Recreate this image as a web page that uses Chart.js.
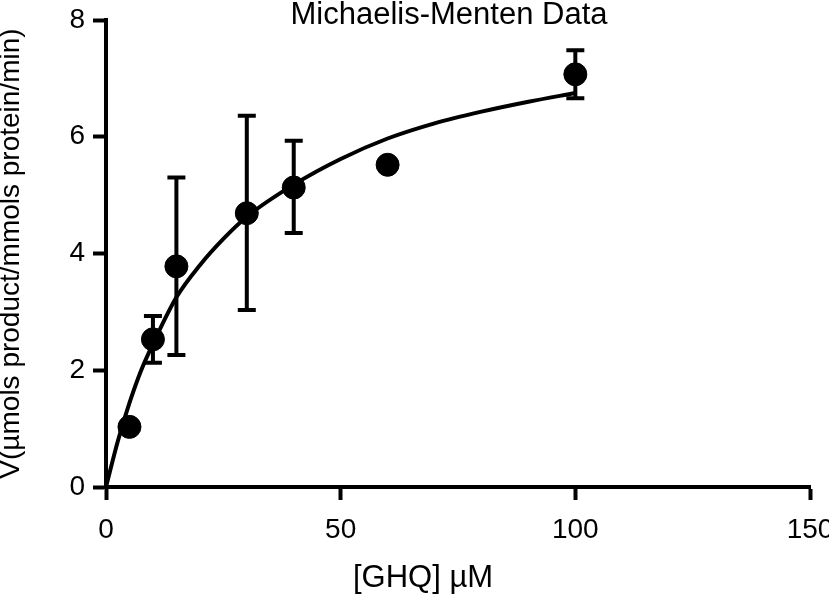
<!DOCTYPE html>
<html>
<head>
<meta charset="utf-8">
<script src="https://cdn.jsdelivr.net/npm/chart.js@4/dist/chart.umd.min.js"></script>
<style>
  html, body { margin: 0; padding: 0; background: #fff; }
  #wrap { width: 829px; height: 598px; }
</style>
</head>
<body>
<div id="wrap"><canvas id="mmChart" width="829" height="598"></canvas></div>
<script>
// measured data: substrate conc (uM) and rate
const substrate = [5, 10, 15, 30, 40, 60, 100];
const rate = [1.03, 2.53, 3.78, 4.69, 5.13, 5.52, 7.07];
const errLower = [null, 2.13, 2.26, 3.03, 4.35, null, 6.66];
const errUpper = [null, 2.93, 5.30, 6.36, 5.93, null, 7.48];

// fitted curve
const fitX = [0, 2.5, 5, 7.5, 10, 15, 20, 25, 30, 40, 50, 60, 70, 80, 90, 100];
const fitY = [0, 0.78, 1.44, 2.0, 2.45, 3.25, 3.80, 4.25, 4.63, 5.18, 5.62, 5.97, 6.23, 6.43, 6.60, 6.75];

const xTicks = [0, 50, 100, 150];
const yTicks = [0, 2, 4, 6, 8];

const FONT = '"Liberation Sans", Arial, sans-serif';

const errorBars = {
  id: 'errorBars',
  beforeDatasetsDraw(chart) {
    const ctx = chart.ctx;
    const xs = chart.scales.x, ys = chart.scales.y;
    ctx.save();
    ctx.strokeStyle = '#000';
    ctx.lineWidth = 4;
    for (let i = 0; i < substrate.length; i++) {
      if (errLower[i] == null) continue;
      const px = xs.getPixelForValue(substrate[i]);
      const lo = ys.getPixelForValue(errLower[i]);
      const hi = ys.getPixelForValue(errUpper[i]);
      ctx.beginPath();
      ctx.moveTo(px, lo); ctx.lineTo(px, hi);
      ctx.moveTo(px - 9, lo); ctx.lineTo(px + 9, lo);
      ctx.moveTo(px - 9, hi); ctx.lineTo(px + 9, hi);
      ctx.stroke();
    }
    ctx.restore();
  }
};

// chart title and x axis title sit off-centre in the original, so draw them by hand
const extraText = {
  id: 'extraText',
  afterDraw(chart) {
    const ctx = chart.ctx;
    ctx.save();
    ctx.fillStyle = '#000';
    ctx.textAlign = 'center';
    ctx.textBaseline = 'alphabetic';
    ctx.font = '31px ' + FONT;
    ctx.fillText('Michaelis-Menten Data', 449, 24);
    ctx.fillText('[GHQ] µM', 423, 587);
    ctx.restore();
  }
};

new Chart(document.getElementById('mmChart'), {
  type: 'scatter',
  data: {
    datasets: [{
      label: 'Fit',
      type: 'line',
      data: fitX.map((x, i) => ({x: x, y: fitY[i]})),
      borderColor: '#000',
      borderWidth: 4,
      pointRadius: 0,
      fill: false,
      cubicInterpolationMode: 'monotone'
    }, {
      label: 'Data',
      data: substrate.map((x, i) => ({x: x, y: rate[i]})),
      backgroundColor: '#000',
      borderColor: '#000',
      pointRadius: 11.5,
      pointHoverRadius: 11.5
    }]
  },
  options: {
    responsive: false,
    animation: false,
    layout: { padding: { left: 0, right: 19, top: 20, bottom: 0 } },
    plugins: {
      legend: { display: false },
      tooltip: { enabled: false }
    },
    scales: {
      x: {
        type: 'linear',
        min: 0, max: 150,
        afterBuildTicks: (s) => { s.ticks = xTicks.map(v => ({value: v})); },
        afterFit: (s) => { s.height = 111; s.paddingLeft = 0; s.paddingRight = 0; },
        border: { display: true, color: '#000', width: 4 },
        grid: { drawOnChartArea: false, drawTicks: true, tickLength: 13, tickColor: '#000', tickWidth: 4 },
        ticks: { color: '#000', font: { family: FONT, size: 28 }, padding: 13, maxRotation: 0 },
        title: { display: false }
      },
      y: {
        type: 'linear',
        min: 0, max: 8,
        afterBuildTicks: (s) => { s.ticks = yTicks.map(v => ({value: v})); },
        afterFit: (s) => { s.width = 106; s.paddingTop = 0; s.paddingBottom = 0; },
        border: { display: true, color: '#000', width: 4 },
        grid: { drawOnChartArea: false, drawTicks: true, tickLength: 13, tickColor: '#000', tickWidth: 4 },
        ticks: { color: '#000', font: { family: FONT, size: 28 }, padding: 8 },
        title: {
          display: true,
          text: 'V(µmols product/mmols protein/min)',
          color: '#000',
          font: { family: FONT, size: 28, lineHeight: 0.8 },
          padding: { top: 0, bottom: 0 }
        }
      }
    }
  },
  plugins: [errorBars, extraText]
});
</script>
</body>
</html>
